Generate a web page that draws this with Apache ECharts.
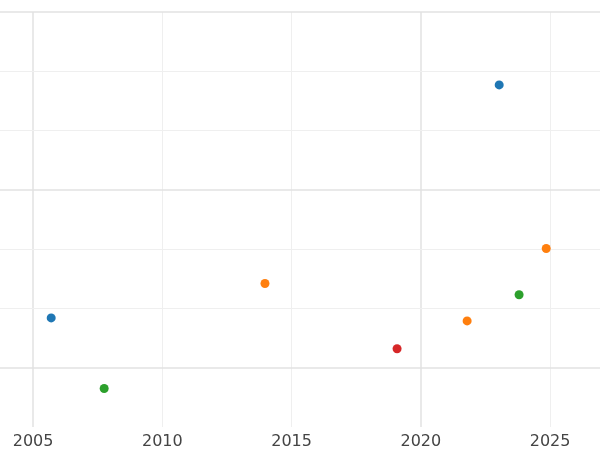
<!DOCTYPE html><html><head><meta charset="utf-8"><script src="https://cdn.jsdelivr.net/npm/echarts@6/dist/echarts.min.js"></script></head><body style="margin:0"><div id="c" style="width:600px;height:450px"></div><script>
const xTicks=[2005,2010,2015,2020,2025];
const majorX=[2005,2020];
const yLines=[0,1,2,3,4,5,6];
const majorY=[0,3,6];
const blue=[[2005.70,0.84],[2023.03,4.77]];
const orange=[[2013.97,1.42],[2021.79,0.79],[2024.85,2.01]];
const green=[[2007.75,-0.35],[2023.80,1.23]];
const red=[[2019.08,0.32]];
const colors=['#1f77b4','#ff7f0e','#2ca02c','#d62728'];
const ml=[];
xTicks.forEach(v=>ml.push({xAxis:v,lineStyle:{color:majorX.includes(v)?'#e2e2e2':'#efefef',width:majorX.includes(v)?1.5:1,type:'solid'}}));
yLines.forEach(v=>ml.push({yAxis:v,lineStyle:{color:majorY.includes(v)?'#e2e2e2':'#efefef',width:majorY.includes(v)?1.5:1,type:'solid'}}));
const ch=echarts.init(document.getElementById('c'));
ch.setOption({animation:false,
grid:{left:0,right:0,top:12,bottom:20},
xAxis:{type:'value',min:2003.72,max:2026.93,axisLine:{show:false},axisTick:{show:false},splitLine:{show:false},
 axisLabel:{customValues:xTicks,color:'#444',fontSize:16,fontFamily:'DejaVu Sans',margin:7,formatter:v=>String(v)}},
yAxis:{type:'value',min:-1,max:6,axisLine:{show:false},axisTick:{show:false},axisLabel:{show:false},splitLine:{show:false}},
series:[blue,orange,green,red].map((d,i)=>({type:'scatter',data:d,symbolSize:9,itemStyle:{color:colors[i],opacity:1},z:3,
 markLine:i===0?{silent:true,symbol:'none',label:{show:false},data:ml,z:1}:undefined}))
});
</script></body></html>
